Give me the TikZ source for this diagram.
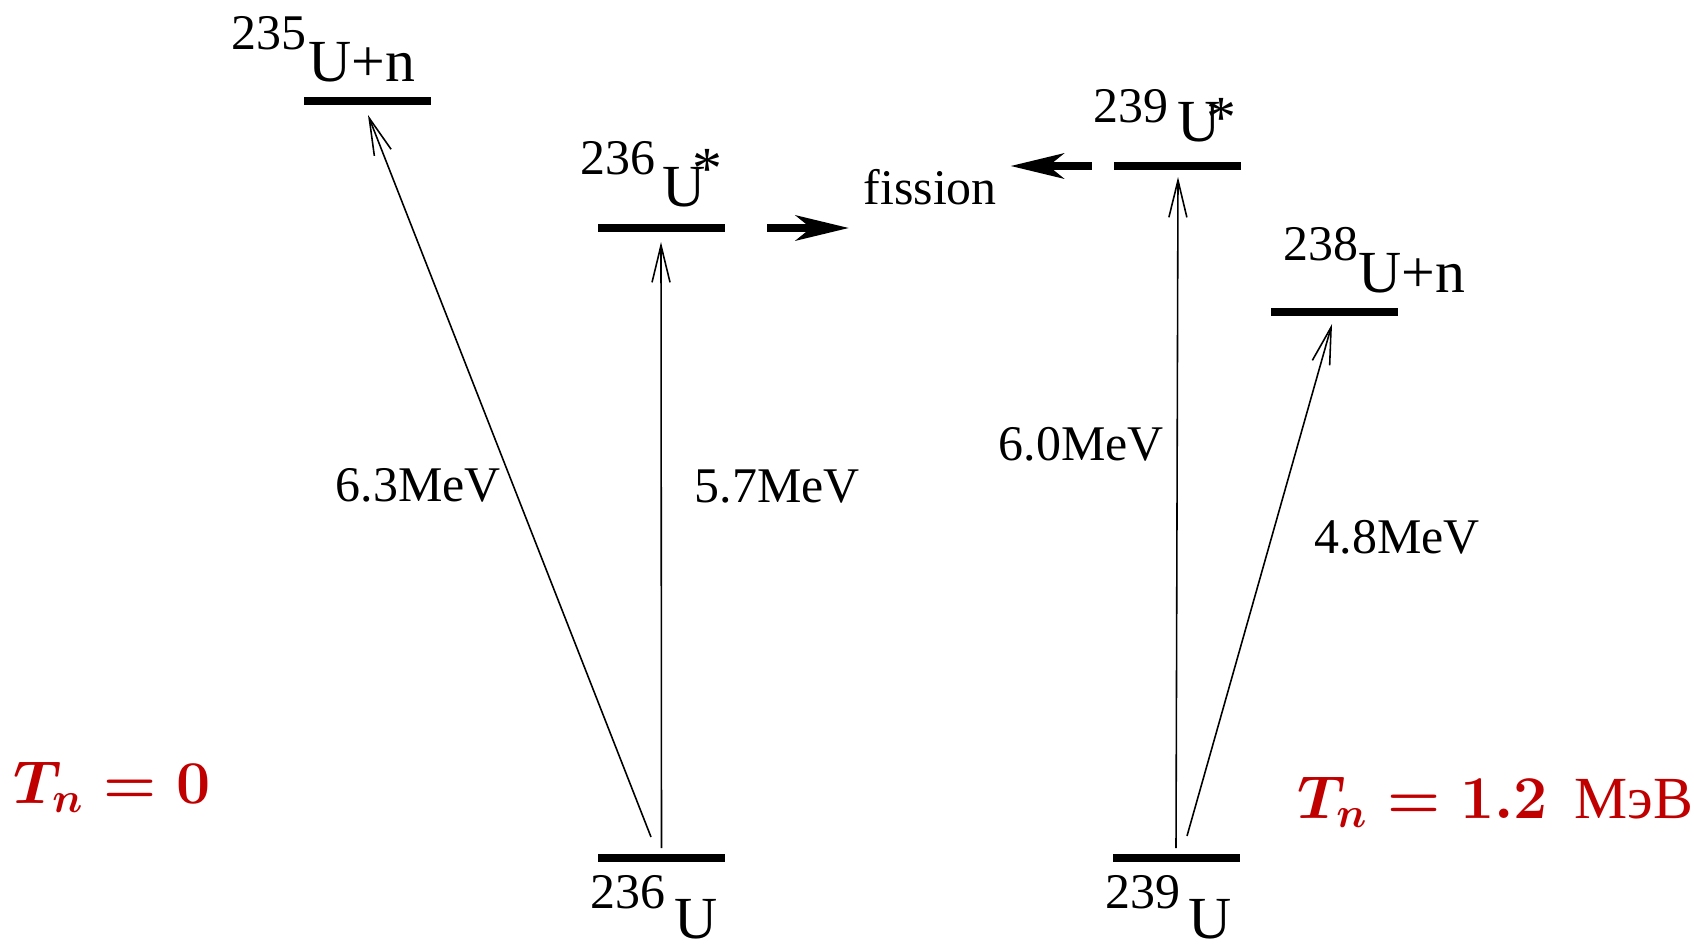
\documentclass[tikz,border=0pt]{standalone}
\usepackage{fontspec}
\setmainfont{Liberation Serif}
\usetikzlibrary{arrows.meta,positioning}
\definecolor{tnred}{RGB}{192,0,0}
\newcommand{\massno}[2]{\raisebox{#1}{\fontsize{14.2}{17}\selectfont #2}}
\newcommand{\excit}[1]{\raisebox{#1}{*}}
\newcommand{\tnval}[1]{\mbox{\boldmath$T_n = #1$}}

\begin{document}
\begin{tikzpicture}[>=Latex,
  level/.style={fill=black, inner sep=0pt, minimum width=1.27cm, minimum height=0.085cm},
  nuc/.style={inner sep=0pt, anchor=base west, font=\fontsize{17}{20}\selectfont},
  energy/.style={inner sep=0pt, anchor=base west, font=\fontsize{14.2}{17}\selectfont},
  trans/.style={-{Straight Barb[length=3.7mm,width=1.8mm]}, line width=0.45pt},
  decay/.style={-{Stealth[length=5.3mm,width=2.5mm,inset=1.5mm]}, line width=2.3pt},
  tn/.style={inner sep=0pt, anchor=base west, text=tnred, font=\fontsize{17}{20}\selectfont}]
\useasboundingbox (0,0) rectangle (16.94,9.43);
% energy levels
\node[level] (l235) at (3.67,8.42) {};
\node[level] (l236s) at (6.61,7.15) {};
\node[level] (l239s) at (11.77,7.77) {};
\node[level] (l238) at (13.34,6.31) {};
\node[level] (g236) at (6.615,0.85) {};
\node[level] (g239) at (11.76,0.85) {};
% nuclide labels
\node[nuc] (n235) at (2.31,8.61) {\massno{0.32cm}{235}\kern0.02cm U+n};
\node[nuc] (n236s) at (5.80,7.37) {\massno{0.31cm}{236}\kern0.07cm U\kern-0.13cm\excit{0.18cm}};
\node[nuc] (n239s) at (10.93,8.01) {\massno{0.19cm}{239}\kern0.09cm U\kern-0.14cm\excit{0.04cm}};
\node[nuc] (n238) at (12.83,6.51) {\massno{0.32cm}{238}U+n};
\node[nuc] (n236) at (5.90,0.05) {\massno{0.30cm}{236}\kern0.09cm U};
\node[nuc] (n239) at (11.05,0.05) {\massno{0.30cm}{239}\kern0.08cm U};
% transitions
\draw[trans] ([shift={(-0.105,0.21)}]g236.center) -- ([shift={(0.01,-0.14)}]l235.center);
\draw[trans] ([yshift=0.10cm]g236.center) -- ([yshift=-0.14cm]l236s.center);
\draw[trans] ([yshift=0.10cm]g239.center) -- ([shift={(0.01,-0.11)}]l239s.center);
\draw[trans] ([shift={(0.11,0.22)}]g239.center) -- ([shift={(-0.02,-0.12)}]l238.center);
\node[energy] (e63) at (3.35,4.42) {6.3MeV};
\node[energy] (e57) at (6.94,4.41) {5.7MeV};
\node[energy] (e60) at (9.98,4.83) {6.0MeV};
\node[energy] (e48) at (13.14,3.90) {4.8MeV};
% fission
\node[energy] (fis) at (8.63,7.38) {fission};
\draw[decay] ([xshift=0.42cm]l236s.east) -- ([xshift=-0.14cm]fis.west |- l236s.east);
\draw[decay] ([xshift=-0.21cm]l239s.west) -- ([xshift=0.13cm]fis.east |- l239s.west);
% neutron energies
\node[tn] (tn0) at (0.13,1.40) {\tnval{0}};
\node[tn] (tn12) at (12.97,1.25) {\tnval{1.2\,} МэВ};
\end{tikzpicture}
\end{document}
